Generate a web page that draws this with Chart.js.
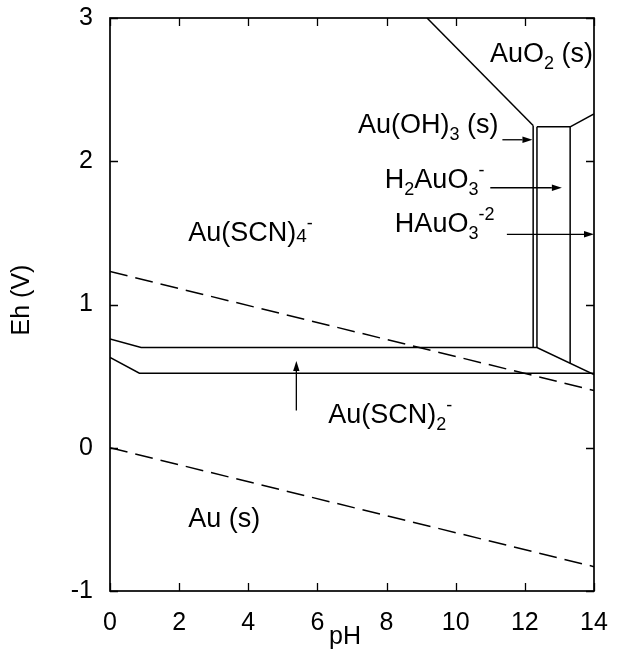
<!DOCTYPE html>
<html>
<head>
<meta charset="utf-8">
<script src="https://cdn.jsdelivr.net/npm/chart.js@4/dist/chart.umd.min.js"></script>
<style>
html,body{margin:0;padding:0;background:#fff;}
#wrap{width:624px;height:650px;position:relative;}
</style>
</head>
<body>
<div id="wrap"><canvas id="c" width="624" height="650"></canvas></div>
<script>
// ---- data ----
const xTicks = [0, 2, 4, 6, 8, 10, 12, 14];
const yTicks = [-1, 0, 1, 2, 3];
const waterUpper = [{x:0, y:1.23}, {x:14, y:0.40}];
const waterLower = [{x:0, y:0.00}, {x:14, y:-0.83}];
const scn4scn2 = [{x:0, y:0.76}, {x:0.9, y:0.70}, {x:12.35, y:0.70}, {x:14, y:0.51}];
const scn2au = [{x:0, y:0.63}, {x:0.85, y:0.52}, {x:14, y:0.52}];
const ohLeft = [{x:12.24, y:0.70}, {x:12.24, y:2.25}];
const ohRight = [{x:12.35, y:0.70}, {x:12.35, y:2.24}];
const h2auo3Right = [{x:13.31, y:0.59}, {x:13.31, y:2.24}];
const topFlat = [{x:12.35, y:2.24}, {x:13.31, y:2.24}];
const topRight = [{x:13.31, y:2.24}, {x:14, y:2.33}];
const auo2Diag = [{x:9.17, y:3.0}, {x:12.24, y:2.25}];
// arrows: [fromX, fromY, toX, toY]
const arrows = [
  [11.35, 2.15, 12.22, 2.15],
  [11.0, 1.815, 13.07, 1.815],
  [11.48, 1.49, 14.0, 1.49],
  [5.39, 0.26, 5.39, 0.605]
];
// labels: segments, anchor x, anchor y (baseline)
const labels = [
  {parts:[['AuO'],['2','sub'],[' (s)']], x:10.99, y:2.69},
  {parts:[['Au(OH)'],['3','sub'],[' (s)']], x:7.17, y:2.197},
  {parts:[['H'],['2','sub'],['AuO'],['3','sub'],['-','sup']], x:7.95, y:1.813},
  {parts:[['HAuO'],['3','sub'],['-2','sup']], x:8.24, y:1.507},
  {parts:[['Au(SCN)'],['4','small'],['-','sup']], x:2.26, y:1.443},
  {parts:[['Au(SCN)'],['2','sub'],['-','sup']], x:6.31, y:0.173},
  {parts:[['Au (s)']], x:2.26, y:-0.553}
];
const xTitle = 'pH';
const yTitle = 'Eh (V)';

const FONT = '"Liberation Sans", Arial, Helvetica, sans-serif';

function lineDS(data, dashed){
  return {data, showLine:true, pointRadius:0, borderColor:'#000', borderWidth:1.5,
    borderDash: dashed ? [18, 8] : [], fill:false, tension:0};
}

const overlay = {
  id:'overlay',
  afterDraw(chart){
    const ctx = chart.ctx, xs = chart.scales.x, ys = chart.scales.y, a = chart.chartArea;
    ctx.save();
    // frame
    ctx.strokeStyle = '#000';
    ctx.lineWidth = 1.7;
    ctx.setLineDash([]);
    ctx.strokeRect(a.left, a.top, a.right - a.left, a.bottom - a.top);
    // inward ticks
    ctx.lineWidth = 1.3;
    ctx.beginPath();
    xTicks.forEach(v => {
      const px = Math.round(xs.getPixelForValue(v)) + 0.5;
      ctx.moveTo(px, a.bottom); ctx.lineTo(px, a.bottom - 8);
      ctx.moveTo(px, a.top); ctx.lineTo(px, a.top + 8);
    });
    yTicks.forEach(v => {
      const py = Math.round(ys.getPixelForValue(v)) + 0.5;
      ctx.moveTo(a.left, py); ctx.lineTo(a.left + 8, py);
      ctx.moveTo(a.right, py); ctx.lineTo(a.right - 8, py);
    });
    ctx.stroke();
    // arrows
    ctx.lineWidth = 1.3;
    ctx.fillStyle = '#000';
    arrows.forEach(([x1,y1,x2,y2]) => {
      const p1x = xs.getPixelForValue(x1), p1y = ys.getPixelForValue(y1);
      const p2x = xs.getPixelForValue(x2), p2y = ys.getPixelForValue(y2);
      const ang = Math.atan2(p2y - p1y, p2x - p1x);
      const L = 10, W = 3.2;
      const bx = p2x - L*Math.cos(ang), by = p2y - L*Math.sin(ang);
      ctx.beginPath(); ctx.moveTo(p1x, p1y); ctx.lineTo(bx, by); ctx.stroke();
      ctx.beginPath();
      ctx.moveTo(p2x, p2y);
      ctx.lineTo(bx + W*Math.sin(ang), by - W*Math.cos(ang));
      ctx.lineTo(bx - W*Math.sin(ang), by + W*Math.cos(ang));
      ctx.closePath(); ctx.fill();
    });
    // labels
    ctx.textBaseline = 'alphabetic';
    ctx.textAlign = 'left';
    labels.forEach(l => {
      let px = xs.getPixelForValue(l.x);
      const py = ys.getPixelForValue(l.y);
      l.parts.forEach(([t, kind]) => {
        let size = 27, dy = 0;
        if (kind === 'sub') { size = 18; dy = 7; }
        else if (kind === 'sup') { size = 18; dy = -12; }
        else if (kind === 'small') { size = 19; dy = 1; }
        ctx.font = size + 'px ' + FONT;
        ctx.fillText(t, px, py + dy);
        px += ctx.measureText(t).width;
      });
    });
    // axis titles
    ctx.font = '25px ' + FONT;
    ctx.textAlign = 'center';
    ctx.textBaseline = 'middle';
    ctx.fillText(xTitle, 345, 637);
    ctx.translate(22, 300);
    ctx.rotate(-Math.PI/2);
    ctx.fillText(yTitle, 0, 0);
    ctx.restore();
  }
};

new Chart(document.getElementById('c'), {
  type:'scatter',
  data:{datasets:[
    lineDS(waterUpper, true),
    lineDS(waterLower, true),
    lineDS(scn4scn2),
    lineDS(scn2au),
    lineDS(ohLeft),
    lineDS(ohRight),
    lineDS(h2auo3Right),
    lineDS(topFlat),
    lineDS(topRight),
    lineDS(auo2Diag)
  ]},
  options:{
    responsive:false,
    animation:false,
    devicePixelRatio:1,
    layout:{padding:{top:18, right:30, left:0, bottom:0}},
    plugins:{legend:{display:false}, tooltip:{enabled:false}},
    scales:{
      x:{type:'linear', min:0, max:14,
        afterBuildTicks(s){ s.ticks = xTicks.map(v => ({value:v})); },
        afterFit(s){ s.height = 59; s.paddingLeft = 0; s.paddingRight = 0; },
        grid:{display:false, drawTicks:false},
        border:{display:false},
        ticks:{color:'#000', padding:17, font:{family:FONT, size:25}, maxRotation:0, autoSkip:false}
      },
      y:{type:'linear', min:-1, max:3,
        afterBuildTicks(s){ s.ticks = yTicks.map(v => ({value:v})); },
        afterFit(s){ s.width = 110; s.paddingTop = 0; s.paddingBottom = 0; },
        grid:{display:false, drawTicks:false},
        border:{display:false},
        ticks:{color:'#000', padding:17, font:{family:FONT, size:25}, autoSkip:false}
      }
    }
  },
  plugins:[overlay]
});
</script>
</body>
</html>
